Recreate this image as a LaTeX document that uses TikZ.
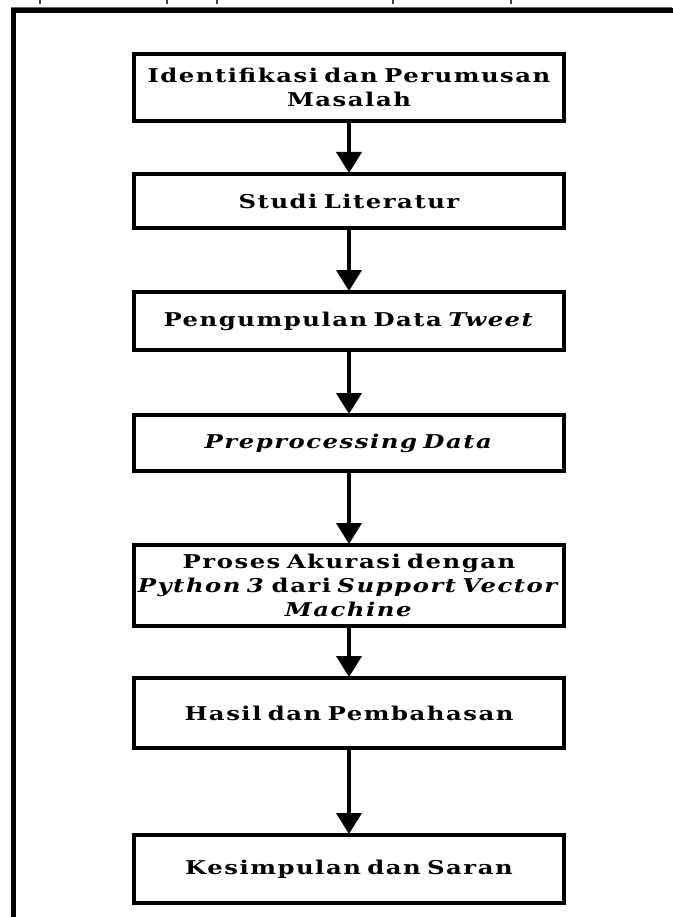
\documentclass[tikz,border=0pt]{standalone}
\usepackage{fontspec}
\setmainfont{DejaVu Serif}[FakeStretch=1.28, LetterSpace=8]
\usetikzlibrary{arrows.meta}
\tikzset{
  stepbox/.style={draw=black, line width=4pt, minimum width=430pt, align=center,
    font=\fontsize{19}{24}\selectfont\bfseries, inner sep=0pt, text width=430pt},
  flow/.style={line width=4pt, -{Triangle[width=25pt,length=21pt]}, shorten >=-1pt},
  frame/.style={line width=4.5pt, black},
  tick/.style={line width=1.2pt, black!75}
}
\begin{document}
\begin{tikzpicture}[x=1pt,y=-1pt]
\useasboundingbox (0,0) rectangle (672,917);
% outer frame
\draw[line width=1pt, black!60] (11,7.5) -- (672,7.5);
\draw[frame] (13.5,930) -- (13.5,10.5) -- (680,10.5);
\foreach \tx in {40,167,217,393,511} \draw[tick] (\tx,0) -- (\tx,4.5);
% boxes
\node[stepbox, minimum height=67pt] (b1) at (349,87.5) {Identifikasi dan Perumusan\\Masalah};
\node[stepbox, minimum height=54pt] (b2) at (349,201) {Studi Literatur};
\node[stepbox, minimum height=58pt] (b3) at (349,321) {Pengumpulan Data \textit{Tweet}};
\node[stepbox, minimum height=56pt] (b4) at (349,443) {\textit{Preprocessing Data}};
\node[stepbox, minimum height=81pt] (b5) at (349,585.5) {Proses Akurasi dengan\\\textit{Python 3} dari \textit{Support Vector}\\\textit{Machine}};
\node[stepbox, minimum height=70pt] (b6) at (349,713) {Hasil dan Pembahasan};
\node[stepbox, minimum height=68pt] (b7) at (349,869) {Kesimpulan dan Saran};
% connectors
\draw[flow] (b1) -- (b2);
\draw[flow] (b2) -- (b3);
\draw[flow] (b3) -- (b4);
\draw[flow] (b4) -- (b5);
\draw[flow] (b5) -- (b6);
\draw[flow] (b6) -- (b7);
\end{tikzpicture}
\end{document}
